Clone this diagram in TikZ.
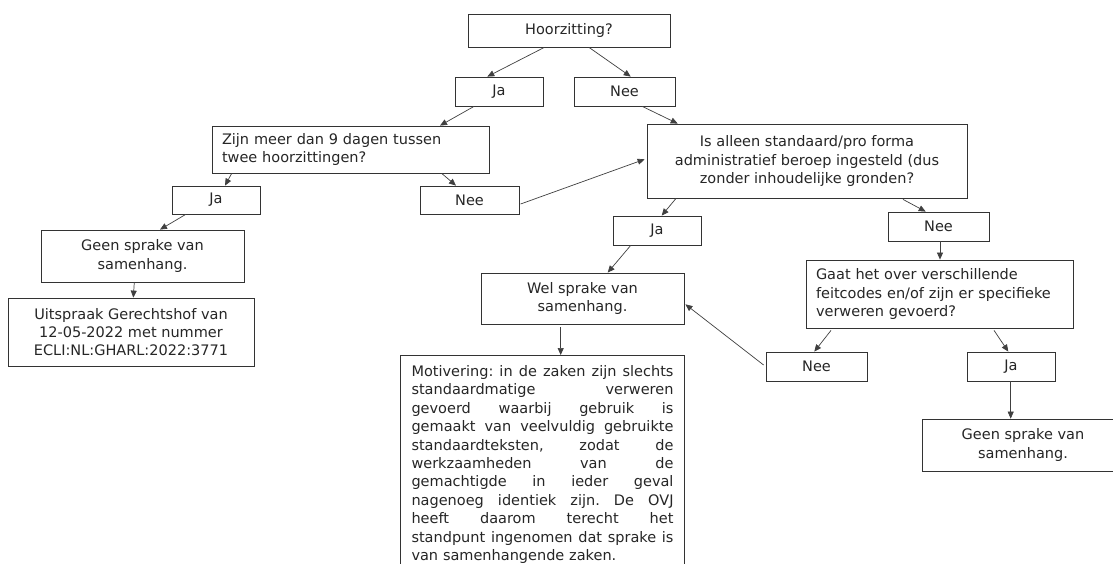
\documentclass[tikz,border=0pt]{standalone}
\usepackage{fontspec}
\setmainfont{DejaVu Sans}
\usetikzlibrary{arrows.meta,calc}
\newcommand\jline[1]{{\frenchspacing\spaceskip=0.318em plus 1fil minus 0.05em\makebox[262pt][s]{#1}}\\}
\begin{document}
\begin{tikzpicture}[x=1pt,y=-1pt,
  box/.style={draw=black!80, line width=0.8pt, inner sep=0pt, text=black!85,
    font=\fontsize{14.5}{18.4}\selectfont},
  cbox/.style={box, align=center},
  arr/.style={draw=black!75, line width=0.7pt, -{Triangle[length=7pt,width=6pt]}}]
\useasboundingbox[fill=white] (0,0) rectangle (1113,563);

\node[box, minimum width=202pt, minimum height=33pt] (hoor) at (569,30.5) {Hoorzitting?};
\node[box, minimum width=88pt, minimum height=29pt] (ja1) at (499,91.5) {Ja};
\node[box, minimum width=101pt, minimum height=29pt] (nee1) at (624.5,91.5) {Nee};
\node[box, align=left, text width=257pt, minimum width=277pt, minimum height=47pt] (zijn) at (350.5,149.5)
  {Zijn meer dan 9 dagen tussen\\twee hoorzittingen?};
\node[cbox, minimum width=320pt, minimum height=74pt] (isal) at (807,161)
  {Is alleen standaard/pro forma\\administratief beroep ingesteld (dus\\zonder inhoudelijke gronden?};
\node[box, minimum width=88pt, minimum height=28pt] (ja2) at (216,200) {Ja};
\node[box, minimum width=99pt, minimum height=28pt] (nee2) at (469.5,200) {Nee};
\node[box, minimum width=88pt, minimum height=29pt] (ja3) at (657,230.5) {Ja};
\node[box, minimum width=101pt, minimum height=29pt] (nee3) at (938.5,226.5) {Nee};
\node[cbox, minimum width=203pt, minimum height=52pt] (geen1) at (142.5,256) {Geen sprake van\\samenhang.};
\node[cbox, minimum width=246pt, minimum height=68pt] (uit) at (131,332)
  {Uitspraak Gerechtshof van\\12-05-2022 met nummer\\ECLI:NL:GHARL:2022:3771};
\node[cbox, minimum width=203pt, minimum height=51pt] (wel) at (582.5,298.5) {Wel sprake van\\samenhang.};
\node[box, align=left, text width=262pt, minimum width=283.5pt, inner ysep=10pt, anchor=north] (motiv) at (542.5,355)
  {\jline{Motivering: in de zaken zijn slechts}
   \jline{standaardmatige verweren}
   \jline{gevoerd waarbij gebruik is}
   \jline{gemaakt van veelvuldig gebruikte}
   \jline{standaardteksten, zodat de}
   \jline{werkzaamheden van de}
   \jline{gemachtigde in ieder geval}
   \jline{nagenoeg identiek zijn. De OVJ}
   \jline{heeft daarom terecht het}
   \jline{standpunt ingenomen dat sprake is}
   van samenhangende zaken.};
\node[box, align=left, text width=247pt, minimum width=267pt, minimum height=68pt] (gaat) at (939.5,294)
  {Gaat het over verschillende\\feitcodes en/of zijn er specifieke\\verweren gevoerd?};
\node[box, minimum width=101pt, minimum height=29pt] (nee4) at (816.5,366.5) {Nee};
\node[box, minimum width=88pt, minimum height=29pt] (ja4) at (1011,366.5) {Ja};
\node[cbox, minimum width=202pt, minimum height=52pt] (geen2) at (1023,445) {Geen sprake van\\samenhang.};

\draw[arr] ($(hoor.south)+(-24.7,0)$) -- ($(ja1.north)+(-11.7,0)$);
\draw[arr] ($(hoor.south)+(20,0)$) -- ($(nee1.north)+(6.2,0)$);
\draw[arr] ($(ja1.south)+(-25,0)$) -- ($(zijn.north)+(89.5,0)$);
\draw[arr] ($(nee1.south)+(17.8,0)$) -- ($(isal.north)+(-129.3,0)$);
\draw[arr] ($(zijn.south)+(-118.8,0)$) -- ($(ja2.north)+(9,0)$);
\draw[arr] ($(zijn.south)+(91.2,0)$) -- ($(nee2.north)+(-13.5,0)$);
\draw[arr] ($(nee2.east)+(1.2,4)$) -- ($(isal.west)+(-2,-1.7)$);
\draw[arr] ($(isal.south)+(-131,0)$) -- ($(ja3.north)+(4.7,0)$);
\draw[arr] ($(isal.south)+(96,1)$) -- ($(nee3.north)+(-12.8,0)$);
\draw[arr] ($(nee3.south)+(1.5,0)$) -- ($(gaat.north)+(0.5,0)$);
\draw[arr] ($(ja2.south)+(-30.3,0)$) -- ($(geen1.north)+(17.5,0)$);
\draw[arr] ($(geen1.south)+(-8.2,0)$) -- ($(uit.north)+(2.3,0)$);
\draw[arr] ($(ja3.south)+(-26.3,0)$) -- ($(wel.north)+(25.2,0)$);
\draw[arr] ($(wel.south)+(-21.8,3)$) -- ($(motiv.north)+(18.2,0)$);
\draw[arr] ($(nee4.west)+(-2,-1.5)$) -- ($(wel.east)+(1,5.8)$);
\draw[arr] ($(gaat.south)+(-108.5,2)$) -- ($(nee4.north)+(-2.2,0)$);
\draw[arr] ($(gaat.south)+(54.5,2)$) -- ($(ja4.north)+(-2.7,0)$);
\draw[arr] ($(ja4.south)+(-0.3,0)$) -- ($(geen2.north)+(-12.3,0)$);
\end{tikzpicture}
\end{document}
